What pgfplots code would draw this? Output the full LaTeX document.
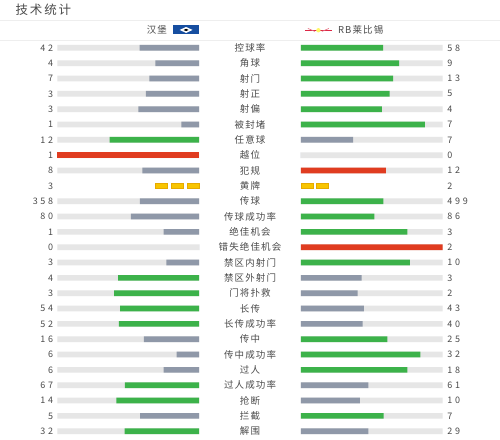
\documentclass[border=0pt]{standalone}
\usepackage{pgfplots}
\pgfplotsset{compat=1.18}
\usepackage{pgfplotstable}
\usepackage{fontspec}
\setmainfont{Noto Sans CJK SC}
\newfontfamily\numfont[LetterSpace=30]{Noto Sans CJK SC}
\newfontfamily\lblfont[LetterSpace=12]{Noto Sans CJK SC}
\newfontfamily\ttlfont[LetterSpace=15]{Noto Sans CJK SC}
\definecolor{winG}{RGB}{60,178,74}
\definecolor{loseS}{RGB}{143,152,168}
\definecolor{badR}{RGB}{224,60,32}
\definecolor{bgG}{RGB}{230,230,230}
\definecolor{cardY}{RGB}{248,197,0}
\definecolor{cardO}{RGB}{230,170,0}
\definecolor{txt}{RGB}{75,75,75}
\definecolor{hsvB}{RGB}{22,78,160}
\definecolor{rbR}{RGB}{220,40,70}
\definecolor{sep}{RGB}{238,238,238}
\pgfdeclareplotmark{card}{%
  \pgfsetcornersarced{\pgfpoint{0.8pt}{0.8pt}}%
  \pgfpathrectangle{\pgfpoint{-6pt}{-2.8pt}}{\pgfpoint{12pt}{5.6pt}}%
  \pgfusepathqfillstroke}
\pgfplotsset{
  side/.style={scale only axis, width=142pt, height=440pt, xmin=0, xmax=1,
    ymin=0, ymax=440, y dir=reverse, hide axis, clip=false, unbounded coords=discard},
  hb/.style={xbar, bar width=5.7, bar shift=0pt, draw=none},
}
% colour codes: 1 = green (better), 2 = grey (worse), 3 = red, 4 = yellow cards
\pgfplotstableread{
name L R lc rc
控球率 42 58 2 1
角球 4 9 2 1
射门 7 13 2 1
射正 3 5 2 1
射偏 3 4 2 1
被封堵 1 7 2 1
任意球 12 7 1 2
越位 1 0 3 2
犯规 8 12 2 3
黄牌 3 2 4 4
传球 358 499 2 1
传球成功率 80 86 2 1
绝佳机会 1 3 2 1
错失绝佳机会 0 2 2 3
禁区内射门 3 10 2 1
禁区外射门 4 3 1 2
门将扑救 3 2 1 2
长传 54 43 1 2
长传成功率 52 40 1 2
传中 16 25 2 1
传中成功率 6 32 2 1
过人 6 18 2 1
过人成功率 67 61 1 2
抢断 14 10 1 2
拦截 5 7 2 1
解围 32 29 1 2
}\data
\newcommand{\rowy}{47.9+15.36*\coordindex}
\begin{document}
\begin{tikzpicture}
% base axis in pixel units: texts and header
\begin{axis}[at={(0pt,0pt)}, anchor=south west, scale only axis, width=500pt, height=440pt,
  xmin=0, xmax=500, ymin=0, ymax=440, y dir=reverse, hide axis, clip=false]
\fill[white] (axis cs:0,0) rectangle (axis cs:500,440);
\node[anchor=west, text=txt, font=\ttlfont\fontsize{12.5}{14}\selectfont, inner sep=0pt] at (axis cs:15,10) {技术统计};
\draw[sep, line width=0.8pt] (axis cs:0,20.5) -- (axis cs:500,20.5);
\draw[sep, line width=0.8pt] (axis cs:0,40) -- (axis cs:500,40);
% team headers
\node[anchor=east, text=txt, font=\lblfont\fontsize{9.5}{11}\selectfont, inner sep=0pt] at (axis cs:167,30) {汉堡};
\fill[hsvB] (axis cs:173,25.5) rectangle (axis cs:199,34.5);
\fill[white] (axis cs:179.5,30) -- (axis cs:186,27) -- (axis cs:192.5,30) -- (axis cs:186,33) -- cycle;
\fill[black] (axis cs:183.5,30) -- (axis cs:186,28.8) -- (axis cs:188.5,30) -- (axis cs:186,31.2) -- cycle;
\draw[rbR, line width=1.1pt] (axis cs:305,30.5) -- (axis cs:332,30.5);
\draw[rbR!70, line width=0.6pt] (axis cs:308,28.5) -- (axis cs:315,31.5);
\draw[rbR!70, line width=0.6pt] (axis cs:329,28.5) -- (axis cs:322,31.5);
\fill[yellow!60!white] (axis cs:318.5,30.3) circle[radius=2.2pt];
\node[anchor=west, text=txt, font=\lblfont\fontsize{9.5}{11}\selectfont, inner sep=0pt] at (axis cs:338,30) {RB莱比锡};
% numbers and labels
\addplot[only marks, mark=none, point meta=explicit symbolic, nodes near coords,
  every node near coord/.append style={anchor=east, inner sep=0pt, text=txt, font=\numfont\fontsize{9}{10}\selectfont}]
  table[x expr=53, y expr=\rowy, meta=L]{\data};
\addplot[only marks, mark=none, point meta=explicit symbolic, nodes near coords,
  every node near coord/.append style={anchor=west, inner sep=0pt, text=txt, font=\numfont\fontsize{9}{10}\selectfont}]
  table[x expr=447.5, y expr=\rowy, meta=R]{\data};
\addplot[only marks, mark=none, point meta=explicit symbolic, nodes near coords,
  every node near coord/.append style={anchor=center, inner sep=0pt, text=txt, font=\lblfont\fontsize{9.5}{11}\selectfont}]
  table[x expr=250, y expr=\rowy, meta=name]{\data};
\end{axis}
% left bars (grow leftwards from x=199)
\begin{axis}[side, at={(57pt,0pt)}, anchor=south west, x dir=reverse]
\addplot[hb, fill=bgG, restrict expr to domain={\thisrow{lc}}{1:3}] table[x expr=1, y expr=\rowy]{\data};
\addplot[hb, fill=winG, restrict expr to domain={\thisrow{lc}}{1:1}] table[x expr={\thisrow{L}/(\thisrow{L}+\thisrow{R})}, y expr=\rowy]{\data};
\addplot[hb, fill=loseS, restrict expr to domain={\thisrow{lc}}{2:2}] table[x expr={\thisrow{L}/(\thisrow{L}+\thisrow{R})}, y expr=\rowy]{\data};
\addplot[hb, fill=badR, restrict expr to domain={\thisrow{lc}}{3:3}] table[x expr={\thisrow{L}/(\thisrow{L}+\thisrow{R})}, y expr=\rowy]{\data};
% yellow cards: 3
\addplot[only marks, mark=card, mark options={fill=cardY, draw=cardO, line width=0.4pt}]
  coordinates {(0.042,186.1) (0.153,186.1) (0.264,186.1)};
\end{axis}
% right bars (grow rightwards from x=301)
\begin{axis}[side, at={(301pt,0pt)}, anchor=south west]
\addplot[hb, fill=bgG, restrict expr to domain={\thisrow{rc}}{1:3}] table[x expr=1, y expr=\rowy]{\data};
\addplot[hb, fill=winG, restrict expr to domain={\thisrow{rc}}{1:1}] table[x expr={\thisrow{R}/(\thisrow{L}+\thisrow{R})}, y expr=\rowy]{\data};
\addplot[hb, fill=loseS, restrict expr to domain={\thisrow{rc}}{2:2}] table[x expr={\thisrow{R}/(\thisrow{L}+\thisrow{R})}, y expr=\rowy]{\data};
\addplot[hb, fill=badR, restrict expr to domain={\thisrow{rc}}{3:3}] table[x expr={\thisrow{R}/(\thisrow{L}+\thisrow{R})}, y expr=\rowy]{\data};
% yellow cards: 2
\addplot[only marks, mark=card, mark options={fill=cardY, draw=cardO, line width=0.4pt}]
  coordinates {(0.042,186.1) (0.153,186.1)};
\end{axis}
\end{tikzpicture}
\end{document}
